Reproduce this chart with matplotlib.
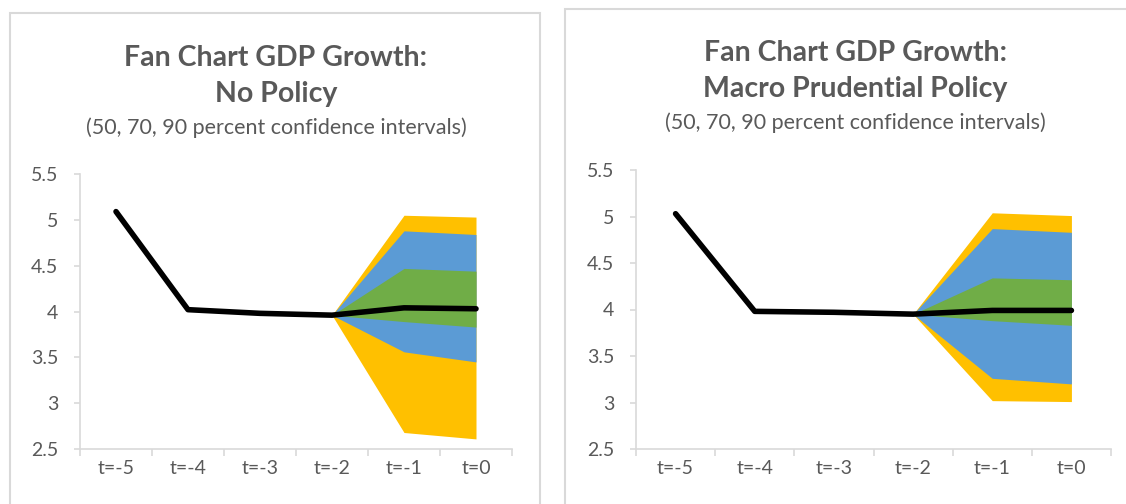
import matplotlib.pyplot as plt
from matplotlib.patches import Rectangle

# categorias y valores
categorias = ["t=-5", "t=-4", "t=-3", "t=-2", "t=-1", "t=0"]

# sin politica
linea_np = [5.09, 4.02, 3.98, 3.96, 4.04, 4.03]
p90_hi_np = [3.96, 5.05, 5.03]
p70_hi_np = [3.96, 4.88, 4.84]
p50_hi_np = [3.96, 4.47, 4.44]
p50_lo_np = [3.96, 3.89, 3.83]
p70_lo_np = [3.96, 3.56, 3.45]
p90_lo_np = [3.96, 2.68, 2.61]

# politica macroprudencial
linea_mp = [5.03, 3.98, 3.97, 3.95, 3.99, 3.99]
p90_hi_mp = [3.95, 5.04, 5.01]
p70_hi_mp = [3.95, 4.87, 4.83]
p50_hi_mp = [3.95, 4.34, 4.32]
p50_lo_mp = [3.95, 3.88, 3.83]
p70_lo_mp = [3.95, 3.26, 3.20]
p90_lo_mp = [3.95, 3.02, 3.01]

titulos = [("Fan Chart GDP Growth:", "No Policy"),
           ("Fan Chart GDP Growth:", "Macro Prudential Policy")]
subtitulo = "(50, 70, 90 percent confidence intervals)"

GRIS = "#595959"
BORDE = "#d9d9d9"
AMARILLO = "#FFC000"
AZUL = "#5B9BD5"
VERDE = "#70AD47"

plt.rcParams["font.family"] = ["Lato", "DejaVu Sans"]

W, H = 1126, 504
fig = plt.figure(figsize=(W / 100, H / 100), dpi=100)

# marcos de cada grafico
fig.patches.append(Rectangle((10 / W, -0.1), 530 / W, 1.1 - 13 / H,
                             transform=fig.transFigure, fill=False,
                             edgecolor=BORDE, linewidth=1.5))
fig.patches.append(Rectangle((565 / W, -0.1), 0.6, 1.1 - 9 / H,
                             transform=fig.transFigure, fill=False,
                             edgecolor=BORDE, linewidth=1.5))

paneles = [
    dict(caja=[80, 174, 512, 449], cx=276, ty=(58, 94), sy=128,
         linea=linea_np, bandas=[(p90_lo_np, p90_hi_np, AMARILLO),
                                 (p70_lo_np, p70_hi_np, AZUL),
                                 (p50_lo_np, p50_hi_np, VERDE)]),
    dict(caja=[636, 170, 1111, 449], cx=855, ty=(53, 89), sy=123,
         linea=linea_mp, bandas=[(p90_lo_mp, p90_hi_mp, AMARILLO),
                                 (p70_lo_mp, p70_hi_mp, AZUL),
                                 (p50_lo_mp, p50_hi_mp, VERDE)]),
]

x = list(range(len(categorias)))
xf = x[3:]

for i, p in enumerate(paneles):
    x0, y0, x1, y1 = p["caja"]
    ax = fig.add_axes([x0 / W, 1 - y1 / H, (x1 - x0) / W, (y1 - y0) / H])
    for lo, hi, c in p["bandas"]:
        ax.fill_between(xf, lo, hi, color=c, linewidth=0)
    ax.plot(x, p["linea"], color="black", linewidth=4, solid_capstyle="round",
            zorder=5)

    ax.set_xlim(-0.5, 5.5)
    ax.set_ylim(2.5, 5.5)
    ax.set_yticks([2.5, 3, 3.5, 4, 4.5, 5, 5.5])
    ax.set_yticklabels(["2.5", "3", "3.5", "4", "4.5", "5", "5.5"])
    ax.set_xticks([k - 0.5 for k in range(7)])
    ax.set_xticklabels([])
    ax.set_xticks(x, minor=True)
    ax.set_xticklabels(categorias, minor=True)
    ax.tick_params(axis="x", which="major", length=5, color=BORDE, width=1.2)
    ax.tick_params(axis="x", which="minor", length=0, pad=8,
                   labelsize=14, labelcolor=GRIS)
    ax.tick_params(axis="y", length=4.5, color=BORDE, width=1.2, pad=11,
                   labelsize=14, labelcolor=GRIS)
    for s in ["top", "right"]:
        ax.spines[s].set_visible(False)
    for s in ["left", "bottom"]:
        ax.spines[s].set_color(BORDE)
        ax.spines[s].set_linewidth(1.2)

    for linea, yy in zip(titulos[i], p["ty"]):
        fig.text(p["cx"] / W, 1 - yy / H, linea, ha="center", va="center",
                 fontsize=20.5, fontweight="bold", color=GRIS)
    fig.text(p["cx"] / W, 1 - p["sy"] / H, subtitulo, ha="center",
             va="center", fontsize=15.5, color=GRIS)

fig.savefig("out.png", dpi=100)
